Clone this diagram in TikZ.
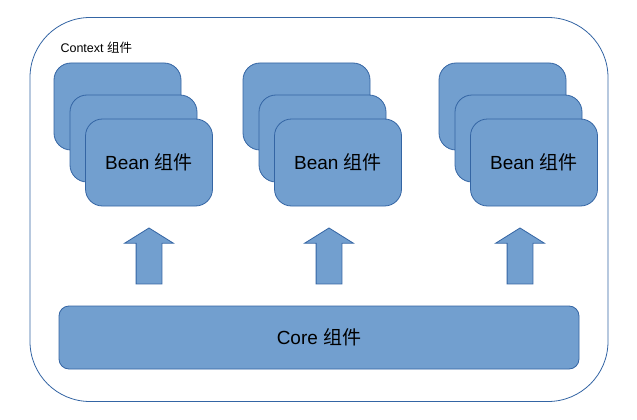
\documentclass[tikz,border=0pt]{standalone}
\usepackage{fontspec}
\setmainfont{Liberation Sans}
\newfontfamily\cjk{Noto Sans CJK SC}
\usepackage{tikz}
\usetikzlibrary{shapes.arrows, positioning}
\definecolor{boxfill}{HTML}{729FCF}
\definecolor{boxline}{HTML}{3465A4}
\tikzstyle{context} = [rectangle, rounded corners=60pt, draw=boxline, fill=white, line width=0.8pt]
\tikzstyle{bean} = [rectangle, rounded corners=17pt, minimum width=127pt, minimum height=87pt, draw=boxline, fill=boxfill, line width=0.8pt, font=\fontsize{19}{22}\selectfont]
\tikzstyle{core} = [rectangle, rounded corners=10pt, minimum width=520pt, minimum height=63pt, draw=boxline, fill=boxfill, line width=0.8pt, font=\fontsize{19}{22}\selectfont]
\tikzstyle{uparrow} = [single arrow, shape border rotate=90, draw=boxline, fill=boxfill, line width=0.8pt, minimum width=48pt, minimum height=56pt, single arrow head extend=11.5pt, single arrow tip angle=116, inner xsep=12.5pt, inner ysep=0pt]

\begin{document}
\begin{tikzpicture}[x=1pt,y=-1pt]
	\useasboundingbox (0,0) rectangle (637,420);
	\node (ctx) [context, minimum width=578pt, minimum height=384pt] at (319,209.5) {};
	\node (ctxlabel) [anchor=west, font=\fontsize{12.5}{14}\selectfont] at (57,48) {Context {\cjk 组件}};
	
	\node (beanAa) [bean] at (117.5,106.5) {};
	\node (beanAb) [bean] at (133.5,138.5) {};
	\node (beanAc) [bean] at (149,162.5) {Bean {\cjk 组件}};
	
	\node (beanBa) [bean] at (306.5,106.5) {};
	\node (beanBb) [bean] at (322.5,138.5) {};
	\node (beanBc) [bean] at (338,162.5) {Bean {\cjk 组件}};
	
	\node (beanCa) [bean] at (502.5,106.5) {};
	\node (beanCb) [bean] at (518.5,138.5) {};
	\node (beanCc) [bean] at (534,162.5) {Bean {\cjk 组件}};
	
	\node (core) [core] at (319,337.5) {Core {\cjk 组件}};
	
	\node (upA) [uparrow] at (149,260) {};
	\node (upB) [uparrow] at (329,260) {};
	\node (upC) [uparrow] at (520,260) {};
\end{tikzpicture}
\end{document}
